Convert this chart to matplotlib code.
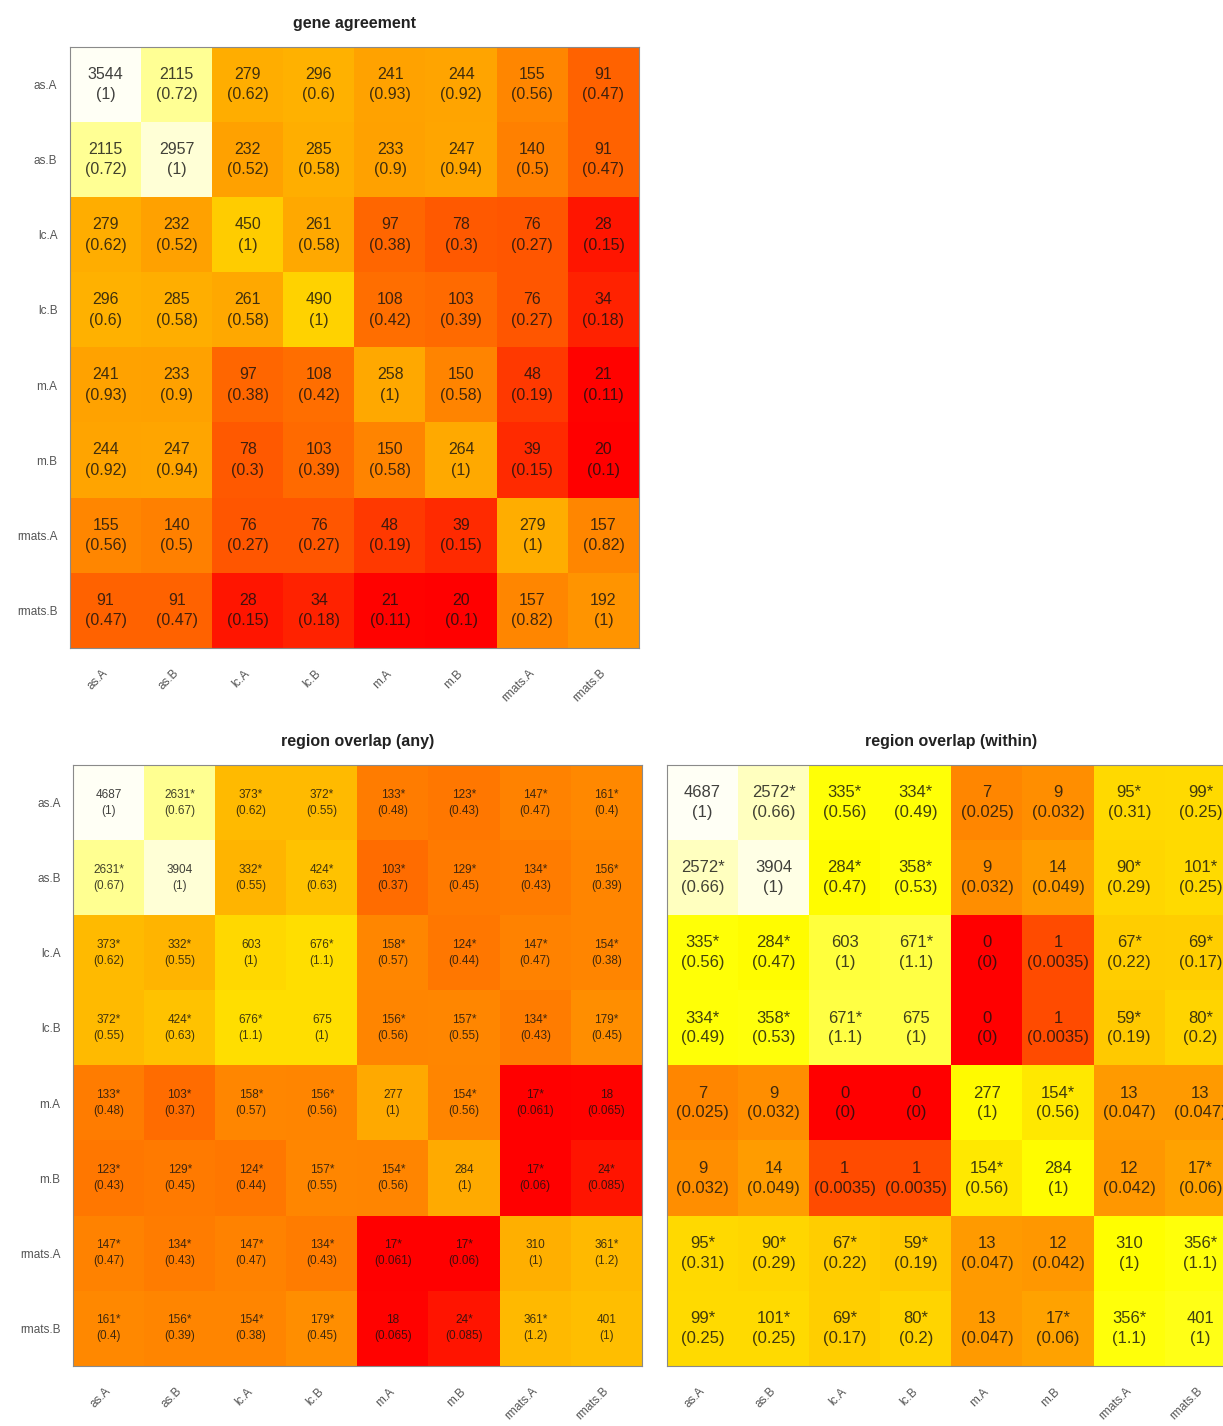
import numpy as np
import matplotlib.pyplot as plt
from matplotlib.colors import LinearSegmentedColormap, Normalize

plt.rcParams['font.family'] = ['Liberation Sans', 'DejaVu Sans']

samples = ["as.A", "as.B", "lc.A", "lc.B", "m.A", "m.B", "rmats.A", "rmats.B"]

# pairwise gene counts (diagonal = genes per sample)
gene_counts = [
    [3544, 2115, 279, 296, 241, 244, 155, 91],
    [2115, 2957, 232, 285, 233, 247, 140, 91],
    [279, 232, 450, 261, 97, 78, 76, 28],
    [296, 285, 261, 490, 108, 103, 76, 34],
    [241, 233, 97, 108, 258, 150, 48, 21],
    [244, 247, 78, 103, 150, 264, 39, 20],
    [155, 140, 76, 76, 48, 39, 279, 157],
    [91, 91, 28, 34, 21, 20, 157, 192],
]

# region overlaps, any overlap
any_counts = [
    [4687, 2631, 373, 372, 133, 123, 147, 161],
    [2631, 3904, 332, 424, 103, 129, 134, 156],
    [373, 332, 603, 676, 158, 124, 147, 154],
    [372, 424, 676, 675, 156, 157, 134, 179],
    [133, 103, 158, 156, 277, 154, 17, 18],
    [123, 129, 124, 157, 154, 284, 17, 24],
    [147, 134, 147, 134, 17, 17, 310, 361],
    [161, 156, 154, 179, 18, 24, 361, 401],
]
any_signif = [
    [0, 1, 1, 1, 1, 1, 1, 1],
    [1, 0, 1, 1, 1, 1, 1, 1],
    [1, 1, 0, 1, 1, 1, 1, 1],
    [1, 1, 1, 0, 1, 1, 1, 1],
    [1, 1, 1, 1, 0, 1, 1, 0],
    [1, 1, 1, 1, 1, 0, 1, 1],
    [1, 1, 1, 1, 1, 1, 0, 1],
    [1, 1, 1, 1, 0, 1, 1, 0],
]

# region overlaps, one region within the other
within_counts = [
    [4687, 2572, 335, 334, 7, 9, 95, 99],
    [2572, 3904, 284, 358, 9, 14, 90, 101],
    [335, 284, 603, 671, 0, 1, 67, 69],
    [334, 358, 671, 675, 0, 1, 59, 80],
    [7, 9, 0, 0, 277, 154, 13, 13],
    [9, 14, 1, 1, 154, 284, 12, 17],
    [95, 90, 67, 59, 13, 12, 310, 356],
    [99, 101, 69, 80, 13, 17, 356, 401],
]
within_signif = [
    [0, 1, 1, 1, 0, 0, 1, 1],
    [1, 0, 1, 1, 0, 0, 1, 1],
    [1, 1, 0, 1, 0, 0, 1, 1],
    [1, 1, 1, 0, 0, 0, 1, 1],
    [0, 0, 0, 0, 0, 1, 0, 0],
    [0, 0, 0, 0, 1, 0, 0, 1],
    [1, 1, 1, 1, 0, 0, 0, 1],
    [1, 1, 1, 1, 0, 1, 1, 0],
]

# heat.colors style ramp: red -> yellow -> white
heat = LinearSegmentedColormap.from_list(
    "heat", [(0.0, "#FF0000"), (0.75, "#FFFF00"), (1.0, "#FFFFF5")])


def draw_panel(ax, counts, signif, title, fs, lsp, ylabels=True):
    m = np.array(counts, dtype=float)
    z = np.log10(m + 0.1)
    ax.imshow(z, cmap=heat, norm=Normalize(z.min(), z.max()),
              aspect='auto', interpolation='nearest')
    d = np.diag(m)
    frac = m / np.minimum.outer(d, d)
    n = len(samples)
    for i in range(n):
        for j in range(n):
            lab = str(int(m[i, j]))
            if signif is not None and signif[i][j]:
                lab += "*"
            ax.text(j, i, f"{lab}\n({frac[i, j]:.2g})", ha='center', va='center',
                    fontsize=fs, color='#111111', alpha=0.8, linespacing=lsp)
    ax.set_xticks(range(n))
    ax.set_xticklabels(samples, rotation=45, ha='right', va='center',
                       rotation_mode='anchor', fontsize=8.5, color='#555555')
    ax.tick_params(axis='x', length=0, pad=17)
    if ylabels:
        ax.set_yticks(range(n))
        ax.set_yticklabels(samples, fontsize=8.5, color='#555555')
        ax.tick_params(axis='y', length=0, pad=9)
    else:
        ax.set_yticks([])
    for s in ax.spines.values():
        s.set_color('#8a8a8a')
        s.set_linewidth(0.8)
    ax.set_title(title, fontsize=11.5, fontweight='bold', pad=14, color='#222222')


W, H = 1223, 1426
fig = plt.figure(figsize=(W / 100, H / 100), dpi=100)

ax1 = fig.add_axes([70 / W, 1 - 648 / H, 569 / W, 601 / H])
draw_panel(ax1, gene_counts, None, "gene agreement", 11.5, 1.45)

ax2 = fig.add_axes([73 / W, 1 - 1366 / H, 569 / W, 601 / H])
draw_panel(ax2, any_counts, any_signif, "region overlap (any)", 8.5, 1.45)

ax3 = fig.add_axes([667 / W, 1 - 1366 / H, 569 / W, 601 / H])
draw_panel(ax3, within_counts, within_signif, "region overlap (within)", 12, 1.4,
           ylabels=False)

fig.savefig("out.png", dpi=100)
